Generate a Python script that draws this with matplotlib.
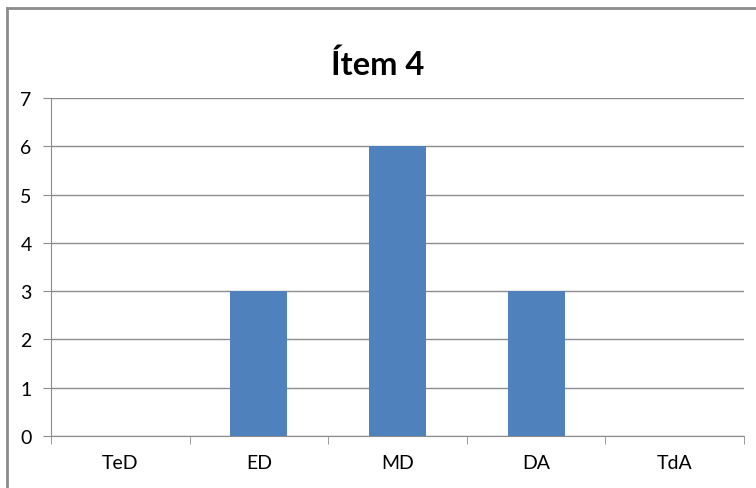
import matplotlib
matplotlib.use("Agg")
import matplotlib.pyplot as plt
from matplotlib.lines import Line2D

categories = ["TeD", "ED", "MD", "DA", "TdA"]
values = [0, 3, 6, 3, 0]
yticks = [0, 1, 2, 3, 4, 5, 6, 7]
title = "Ítem 4"

plt.rcParams['font.family'] = ['Lato', 'DejaVu Sans']

fig = plt.figure(figsize=(7.56, 4.89), dpi=100)
ax = fig.add_axes([51/756, 1-437/489, (744-51)/756, (437-99)/489])

x = list(range(len(categories)))
ax.bar(x, values, width=0.41, color="#4F81BD", zorder=3)
ax.set_xlim(-0.5, len(categories)-0.5)
ax.set_ylim(0, 7)
ax.set_yticks(yticks)
ax.set_yticklabels([str(t) for t in yticks], fontsize=14)
ax.grid(axis='y', color='#8c8c8c', linewidth=1, zorder=0)
ax.set_xticks(x)
ax.set_xticklabels(categories, fontsize=14)
ax.tick_params(axis='x', length=0, pad=13)
ax.set_xticks([i-0.5 for i in range(len(categories)+1)], minor=True)
ax.tick_params(axis='x', which='minor', length=6, color='#8c8c8c', direction='out')
ax.tick_params(axis='y', length=6, color='#8c8c8c', pad=8)
for s in ['top', 'right']:
    ax.spines[s].set_visible(False)
for s in ['left', 'bottom']:
    ax.spines[s].set_color('#8c8c8c')

fig.text(0.5, 1-65/489, title, ha='center', va='center', fontsize=23.5, fontweight='bold')
# chart-area border (top and left edges visible)
fig.lines.append(Line2D([7/756, 7/756], [0, 1-9/489], transform=fig.transFigure,
                        color='#8c8c8c', linewidth=2))
fig.lines.append(Line2D([7/756, 1], [1-9/489, 1-9/489], transform=fig.transFigure,
                        color='#8c8c8c', linewidth=2))
fig.savefig("out.png", dpi=100)
